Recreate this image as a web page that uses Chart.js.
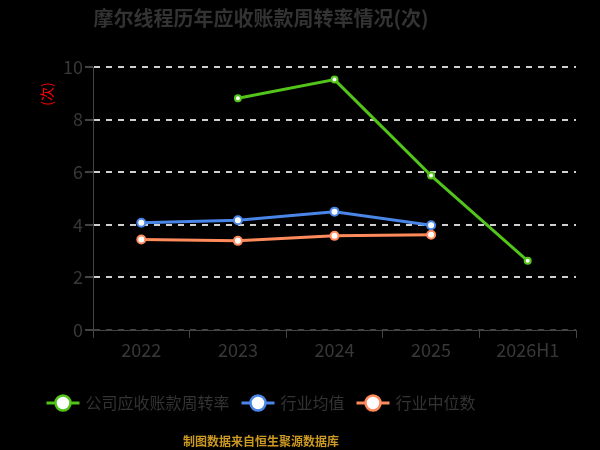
<!DOCTYPE html>
<html>
<head>
<meta charset="utf-8">
<script src="https://cdn.jsdelivr.net/npm/chart.js@4.4.1/dist/chart.umd.min.js"></script>
<style>
  html, body { margin: 0; padding: 0; background: #000; }
  #wrap { width: 600px; height: 450px; }
</style>
</head>
<body>
<div id="wrap"><canvas id="c" width="600" height="450"></canvas></div>
<script>
const categories = ['2022', '2023', '2024', '2025', '2026H1'];
const companyTurnover = [null, 8.81, 9.52, 5.87, 2.63];
const industryMean = [4.08, 4.17, 4.50, 3.98, null];
const industryMedian = [3.44, 3.39, 3.58, 3.62, null];
const yTicks = [0, 2, 4, 6, 8, 10];

const titleText = '摩尔线程历年应收账款周转率情况(次)';
const footerText = '制图数据来自恒生聚源数据库';
const unitText = '(次)';

const FONT = '"Noto Sans CJK SC", "Noto Sans", sans-serif';
const GREEN = '#52c41a';
const BLUE = '#4a86e8';
const ORANGE = '#ff8a5c';
const TEXT = '#333';
const CENTER_X = 261;

// title, unit label, legend and footer drawn around the plot
const decorations = {
    id: 'decorations',
    afterDraw(chart) {
        const ctx = chart.ctx;
        ctx.save();
        ctx.textBaseline = 'middle';

        // title
        ctx.fillStyle = TEXT;
        ctx.textAlign = 'center';
        ctx.font = 'bold 20px ' + FONT;
        ctx.fillText(titleText, CENTER_X, 18);

        // footer
        ctx.fillStyle = '#cc9a22';
        ctx.font = 'bold 12px ' + FONT;
        ctx.fillText(footerText, CENTER_X, 441);

        // unit label
        ctx.save();
        ctx.translate(47, 94);
        ctx.rotate(-Math.PI / 2);
        ctx.fillStyle = '#ff0000';
        ctx.font = '14px ' + FONT;
        ctx.fillText(unitText, 0, 0);
        ctx.restore();

        // legend
        ctx.font = '16px ' + FONT;
        const markerW = 33, gapText = 6, gapItem = 12, y = 403;
        const items = chart.data.datasets.map(ds => ({
            text: ds.label,
            color: ds.borderColor,
            w: markerW + gapText + ctx.measureText(ds.label).width
        }));
        const total = items.reduce((a, it) => a + it.w, 0) + gapItem * (items.length - 1);
        let x = CENTER_X - total / 2;
        ctx.textAlign = 'left';
        for (const it of items) {
            ctx.strokeStyle = it.color;
            ctx.lineWidth = 3;
            ctx.beginPath();
            ctx.moveTo(x, y);
            ctx.lineTo(x + markerW, y);
            ctx.stroke();
            ctx.beginPath();
            ctx.arc(x + markerW / 2, y, 7.5, 0, Math.PI * 2);
            ctx.fillStyle = '#fff';
            ctx.fill();
            ctx.lineWidth = 2.5;
            ctx.stroke();
            ctx.fillStyle = TEXT;
            ctx.fillText(it.text, x + markerW + gapText, y);
            x += it.w + gapItem;
        }
        ctx.restore();
    }
};

const lineSet = (label, data, color, radius) => ({
    label,
    data,
    borderColor: color,
    backgroundColor: '#fff',
    borderWidth: 3,
    pointStyle: 'circle',
    pointRadius: radius,
    pointBorderWidth: 2,
    pointBorderColor: color,
    pointBackgroundColor: '#fff',
    tension: 0
});

const ctx = document.getElementById('c');
new Chart(ctx, {
    type: 'line',
    data: {
        labels: categories,
        datasets: [
            lineSet('公司应收账款周转率', companyTurnover, GREEN, 3),
            lineSet('行业均值', industryMean, BLUE, 4),
            lineSet('行业中位数', industryMedian, ORANGE, 4)
        ]
    },
    options: {
        responsive: false,
        animation: false,
        layout: { padding: { left: 0, right: 24, top: 67, bottom: 64 } },
        plugins: {
            title: { display: false },
            legend: { display: false },
            tooltip: { enabled: false }
        },
        scales: {
            x: {
                offset: true,
                grid: {
                    offset: true,
                    drawOnChartArea: false,
                    drawTicks: true,
                    tickLength: 8,
                    color: '#444'
                },
                border: { display: true, color: '#444', width: 1 },
                ticks: {
                    color: '#383838',
                    font: { family: FONT, size: 18 },
                    padding: 1
                },
                afterFit: (s) => { s.height = 56; }
            },
            y: {
                min: 0,
                max: 10,
                afterBuildTicks: (s) => { s.ticks = yTicks.map(v => ({ value: v })); },
                grid: {
                    color: (c) => c.tick && c.tick.value === 0 ? '#444' : '#d0d0d0',
                    lineWidth: 2,
                    tickLength: 8,
                    tickColor: '#444',
                    drawTicks: true
                },
                border: { display: true, color: '#444', width: 1, dash: [6, 6] },
                ticks: {
                    color: '#383838',
                    font: { family: FONT, size: 18 },
                    padding: 2
                },
                afterFit: (s) => { s.width = 93; }
            }
        }
    },
    plugins: [decorations]
});
</script>
</body>
</html>
